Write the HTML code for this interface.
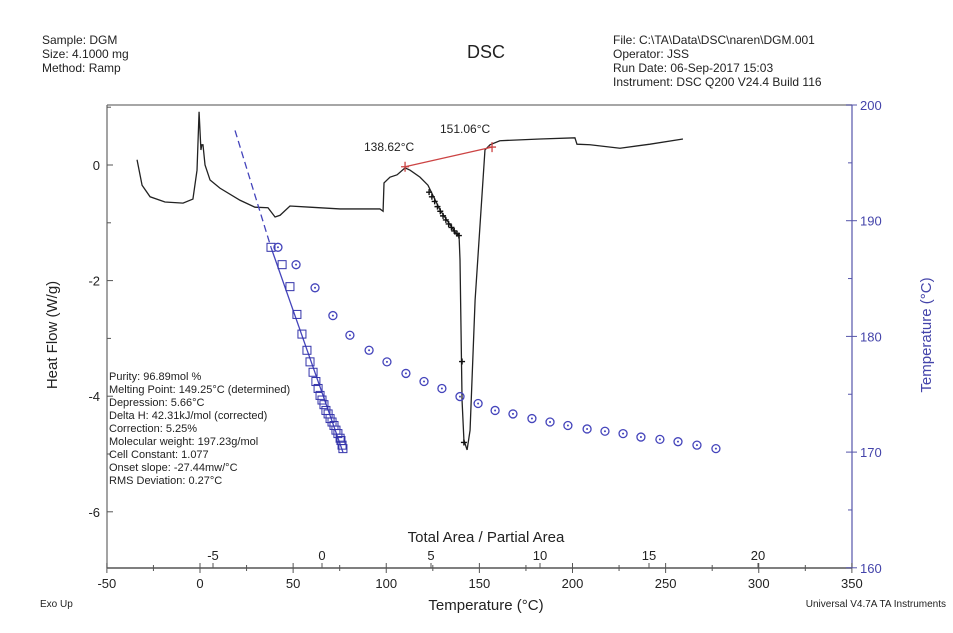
<!DOCTYPE html>
<html><head><meta charset="utf-8"><style>
body{margin:0;background:#fff;}
svg text{font-family:"Liberation Sans",sans-serif;}
</style></head><body>
<svg id="chart" width="953" height="628" viewBox="0 0 953 628" xmlns="http://www.w3.org/2000/svg">
<g font-size="12" fill="#222">
<text x="42" y="44">Sample: DGM</text><text x="42" y="58">Size:  4.1000 mg</text><text x="42" y="72">Method: Ramp</text></g>
<text x="486" y="58" font-size="18" text-anchor="middle" fill="#222">DSC</text>
<g font-size="12" fill="#222">
<text x="613" y="44">File: C:\TA\Data\DSC\naren\DGM.001</text><text x="613" y="58">Operator: JSS</text><text x="613" y="72">Run Date: 06-Sep-2017 15:03</text><text x="613" y="86">Instrument: DSC Q200 V24.4 Build 116</text></g>
<line x1="107" y1="105" x2="852" y2="105" stroke="#888" stroke-width="1.5"/>
<line x1="107" y1="105" x2="107" y2="568" stroke="#666" stroke-width="1.2"/>
<line x1="852" y1="105" x2="852" y2="568" stroke="#5555aa" stroke-width="1.2"/>
<line x1="107" y1="568" x2="852" y2="568" stroke="#555" stroke-width="1.5"/>
<g id="ticks"></g>
<g id="marks"></g>
<text transform="translate(57,335) rotate(-90)" font-size="15" text-anchor="middle" fill="#222">Heat Flow (W/g)</text>
<text transform="translate(931,335) rotate(-90)" font-size="15" text-anchor="middle" fill="#4444aa">Temperature (°C)</text>
<text x="486" y="542" font-size="15" text-anchor="middle" fill="#222">Total Area / Partial Area</text>
<text x="486" y="610" font-size="15" text-anchor="middle" fill="#222">Temperature (°C)</text>
<text x="40" y="607" font-size="10" fill="#222">Exo Up</text>
<text x="946" y="607" font-size="10" text-anchor="end" fill="#222">Universal V4.7A TA Instruments</text>
<g font-size="11" fill="#222">
<text x="109" y="380">Purity: 96.89mol %</text><text x="109" y="393">Melting Point: 149.25°C (determined)</text><text x="109" y="406">Depression: 5.66°C</text><text x="109" y="419">Delta H: 42.31kJ/mol (corrected)</text><text x="109" y="432">Correction: 5.25%</text><text x="109" y="445">Molecular weight: 197.23g/mol</text><text x="109" y="458">Cell Constant: 1.077</text><text x="109" y="471">Onset slope: -27.44mw/°C</text><text x="109" y="484">RMS Deviation: 0.27°C</text></g>
<text x="364" y="151" font-size="12" fill="#222">138.62°C</text>
<text x="440" y="133" font-size="12" fill="#222">151.06°C</text>
</svg>
<script>
const dscTemp=[-33.8,-31.1,-26.8,-18.8,-9.1,-3.8,-1.6,-0.5,0.5,1.0,1.6,2.7,5.4,10.7,21.5,29.5,36.5,40.3,43,48.3,59.1,75.2,96.6,98.3,98.8,102,105.8,110.1,112.8,118.1,122.4,128.9,136.9,139.1,139.6,140.7,141.7,143.4,145,147.7,153,155.7,161,182.6,201.3,202.4,209.4,225.5,241.6,259.3];
const dscFlow=[0.09,-0.35,-0.55,-0.64,-0.66,-0.59,-0.09,0.92,0.26,0.35,0.35,0,-0.26,-0.4,-0.61,-0.73,-0.74,-0.9,-0.87,-0.71,-0.73,-0.76,-0.76,-0.8,-0.31,-0.21,-0.17,-0.05,-0.09,-0.21,-0.35,-0.78,-1.16,-1.23,-1.64,-4.07,-4.76,-4.93,-4.59,-2.34,0.26,0.35,0.42,0.45,0.47,0.36,0.35,0.29,0.36,0.45];
const crossTemp=[123,124.5,126,127.5,129,130.5,132,133.5,135,136.5,138,139,140.7,141.7];
const crossFlow=[-0.47,-0.55,-0.63,-0.72,-0.8,-0.88,-0.95,-1.02,-1.08,-1.14,-1.19,-1.22,-3.4,-4.8];
const sqArea=[-2.34,-1.83,-1.47,-1.15,-0.92,-0.69,-0.55,-0.41,-0.28,-0.18,-0.09,0,0.09,0.18,0.28,0.37,0.46,0.55,0.64,0.73,0.83,0.87,0.92,0.96];
const sqTemp=[187.7,186.2,184.3,181.9,180.2,178.8,177.8,176.9,176.1,175.5,174.9,174.5,174.1,173.6,173.3,172.9,172.6,172.3,171.9,171.6,171.2,171,170.6,170.3];
const cirArea=[-2.02,-1.19,-0.32,0.5,1.28,2.16,2.98,3.85,4.68,5.5,6.33,7.16,7.94,8.76,9.63,10.46,11.28,12.16,12.98,13.81,14.63,15.5,16.33,17.2,18.07];
const cirTemp=[187.7,186.2,184.2,181.8,180.1,178.8,177.8,176.8,176.1,175.5,174.8,174.2,173.6,173.3,172.9,172.6,172.3,172,171.8,171.6,171.3,171.1,170.9,170.6,170.3];
const fitArea=[-3.99,-2.34,0.96];
const fitTemp=[197.8,187.7,170];
const onsetPt=[110.1,-0.03];
const peakPt=[156.8,0.31];
const xTicks=[-50,0,50,100,150,200,250,300,350];
const areaTicks=[-5,0,5,10,15,20];
const yTicks=[0,-2,-4,-6];
const y2Ticks=[200,190,180,170,160];

const X=t=>200+t*1.8625, Y=w=>165-w*57.8, XA=a=>322+a*21.8, YT=t=>105+(200-t)*11.57;
const NS='http://www.w3.org/2000/svg';
const mk=(p,tag,at)=>{const e=document.createElementNS(NS,tag);for(const k in at)e.setAttribute(k,at[k]);p.appendChild(e);return e;};
const tk=document.getElementById('ticks'), mg=document.getElementById('marks');
xTicks.forEach(v=>{const x=X(v);
 const l=mk(tk,'line',{x1:x,y1:563,x2:x,y2:573,stroke:'#555'});
 
 
 const t=mk(tk,'text',{x:x,y:588,'font-size':13,'text-anchor':'middle',fill:'#222'});t.textContent=v;
 
 
 if(v<350){const m=mk(tk,'line',{x1:X(v+25),y1:565,x2:X(v+25),y2:571,stroke:'#555'});}
});
areaTicks.forEach(v=>{const x=XA(v);
 mk(tk,'line',{x1:x,y1:563,x2:x,y2:568,stroke:'#555'});
 const t=mk(tk,'text',{x:x,y:560,'font-size':13,'text-anchor':'middle',fill:'#222'});t.textContent=v;
 
 
});
yTicks.forEach(v=>{const y=Y(v);
 mk(tk,'line',{x1:107,y1:y,x2:113,y2:y,stroke:'#555'});
 mk(tk,'line',{x1:107,y1:Y(v+1),x2:111,y2:Y(v+1),stroke:'#555'});
 const t=mk(tk,'text',{x:100,y:y+5,'font-size':13,'text-anchor':'end',fill:'#222'});t.textContent=v;
 
 
});
y2Ticks.forEach(v=>{const y=YT(v);
 mk(tk,'line',{x1:846,y1:y,x2:857,y2:y,stroke:'#5555aa'});
 if(v>160)mk(tk,'line',{x1:848,y1:YT(v-5),x2:852,y2:YT(v-5),stroke:'#5555aa'});
 const t=mk(tk,'text',{x:860,y:y+5,'font-size':13,fill:'#4444aa'});t.textContent=v;
 
 
});
const dsc=mk(mg,'polyline',{points:dscTemp.map((t,i)=>X(t)+','+Y(dscFlow[i])).join(' '),fill:'none',stroke:'#222','stroke-width':1.3});


crossTemp.forEach((t,i)=>{const x=X(t),y=Y(crossFlow[i]);
 const c=mk(mg,'path',{d:`M${x-3},${y}H${x+3}M${x},${y-3}V${y+3}`,stroke:'#111','stroke-width':1.4});
 
 
});
const bl=mk(mg,'line',{x1:X(onsetPt[0]),y1:Y(onsetPt[1]),x2:X(peakPt[0]),y2:Y(peakPt[1]),stroke:'#cc4444','stroke-width':1.3});


[onsetPt,peakPt].forEach(p=>{const x=X(p[0]),y=Y(p[1]);
 const m=mk(mg,'path',{d:`M${x-4},${y}H${x+4}M${x},${y-5}V${y+5}`,stroke:'#cc4444','stroke-width':1.3});
 
 
});
const fd=mk(mg,'line',{x1:XA(fitArea[0]),y1:YT(fitTemp[0]),x2:XA(fitArea[1]),y2:YT(fitTemp[1]),stroke:'#4444bb','stroke-width':1.3,'stroke-dasharray':'7,4'});


const fs=mk(mg,'line',{x1:XA(fitArea[1]),y1:YT(fitTemp[1]),x2:XA(fitArea[2]),y2:YT(fitTemp[2]),stroke:'#4444bb','stroke-width':1.3});


sqArea.forEach((a,i)=>{const x=XA(a),y=YT(sqTemp[i]);
 const s=mk(mg,'rect',{x:x-4,y:y-4,width:8,height:8,fill:'none',stroke:'#3333aa','stroke-width':1});
 
 
});
cirArea.forEach((a,i)=>{const x=XA(a),y=YT(cirTemp[i]);
 const c=mk(mg,'circle',{cx:x,cy:y,r:4,fill:'none',stroke:'#4444bb','stroke-width':1.3});
 
 
 mk(mg,'circle',{cx:x,cy:y,r:1,fill:'#4444bb'});
});
</script>
</body></html>
